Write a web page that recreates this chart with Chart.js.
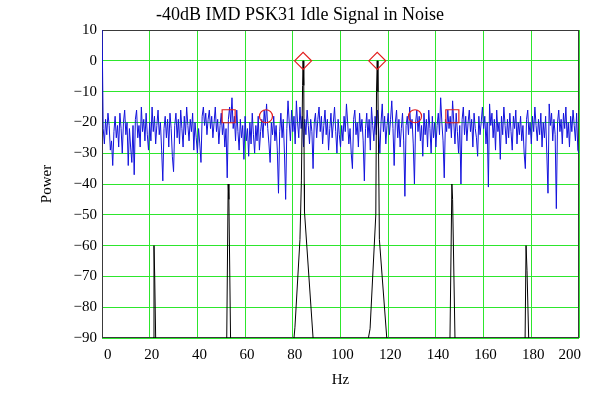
<!DOCTYPE html>
<html>
<head>
<meta charset="utf-8">
<script src="https://cdn.jsdelivr.net/npm/chart.js@4.4.1/dist/chart.umd.min.js"></script>
<style>
  body { margin: 0; background: #fff; }
  canvas { display: block; }
</style>
</head>
<body>
<canvas id="grafico" width="600" height="394"></canvas>
<script>
// noise spectrum, one value every 0.5 Hz from 0 to 200 Hz
var noiseStep = 0.5;
var noisePower = [
  14, -22, -27, -19, -24, -17, -21, -29, -26, -34, -23, -18, -25, -21, -28, -17, -22, -30, -20, -16,
  -24, -20, -34, -22, -28, -33, -21, -37, -19, -16, -25, -21, -28, -15, -23, -19, -26, -17, -24, -29,
  -20, -26, -15, -23, -18, -27, -21, -16, -24, -20, -29, -39, -22, -18, -25, -19, -28, -17, -22, -31,
  -36, -21, -17, -25, -19, -27, -16, -22, -28, -18, -24, -15, -21, -26, -19, -23, -17, -29, -20, -25,
  -30, -22, -27, -33, -18, -15, -21, -17, -24, -19, -16, -22, -18, -25, -20, -15, -23, -19, -27, -21,
  -17, -24, -20, -28, -22, -38, -19, -15, -20, -12, -22, -18, -26, -16, -23, -29, -19, -25, -21, -32,
  -18, -26, -22, -31, -20, -27, -17, -24, -30, -21, -26, -18, -29, -23, -19, -25, -16, -21, -14, -22,
  -27, -33, -20, -24, -18, -26, -21, -29, -43, -23, -17, -25, -19, -30, -45, -22, -13, -20, -26, -16,
  -23, -18, -27, -13, -20, -25, -15, -22, -18, -28, -19, -24, -16, -21, -27, -19, -23, -35, -20, -17,
  -25, -19, -15, -23, -18, -27, -21, -16, -24, -19, -29, -22, -17, -25, -20, -15, -23, -30, -19, -24,
  -28, -21, -26, -18, -23, -14, -20, -27, -22, -30, -35, -19, -16, -24, -20, -28, -17, -23, -19, -26,
  -39, -22, -17, -25, -19, -29, -15, -21, -26, -18, -24, -16, -22, -30, -20, -14, -23, -18, -27, -21,
  -17, -24, -19, -13, -22, -34, -20, -16, -25, -19, -28, -22, -17, -26, -44, -21, -18, -24, -15, -22,
  -19, -27, -40, -20, -16, -23, -18, -26, -21, -31, -17, -24, -19, -28, -16, -22, -30, -18, -25, -20,
  -28, -21, -17, -24, -12, -20, -26, -38, -19, -23, -16, -22, -18, -25, -13, -20, -27, -17, -23, -30,
  -21, -40, -19, -15, -24, -18, -26, -20, -16, -23, -19, -28, -17, -22, -25, -31, -18, -24, -20, -15,
  -22, -18, -27, -20, -41, -14, -21, -17, -25, -19, -29, -16, -23, -20, -32, -18, -24, -15, -21, -27,
  -19, -25, -17, -23, -29, -18, -22, -16, -27, -20, -24, -18, -26, -21, -30, -35, -19, -16, -24, -20,
  -27, -18, -23, -15, -21, -26, -19, -24, -17, -28, -20, -25, -18, -30, -43, -14, -21, -17, -26, -19,
  -24, -48, -20, -16, -23, -19, -27, -17, -22, -15, -25, -20, -28, -18, -23, -16, -21, -26, -17, -29,
  -30
];

// clean two tone signal + IMD products (null = below the plot floor)
var toneHz = [21.5, 21.8, 22.1, 22.5, 37,
  52.3, 52.9, 53.2, 53.9, 67,
  80.5, 80.9, 83.0, 83.6, 84.1, 84.3, 84.6, 84.8, 84.9, 88.5, 100,
  111.7, 112.4, 114.8, 115.1, 115.4, 115.7, 116.1, 116.3, 119.4, 132,
  145.9, 146.7, 147.0, 148.0, 162,
  177.4, 177.8, 178.2, 178.9];
var tonePower = [-90, -60, -70, -90, null,
  -90, -40, -45, -90, null,
  -90, -86.5, -58, -39, -8, 0, -8, -40, -49, -90, null,
  -90, -87, -50, -10, 0, -10, -40, -58, -90, null,
  -90, -40, -45, -90, null,
  -90, -60, -68, -90];

var diamondHz = [84.3, 115.4];
var diamondPower = [0, 0];
var squareHz = [53.1, 146.9];
var squarePower = [-18, -18];
var circleHz = [68.75, 131.25];
var circlePower = [-18, -18];

var xTicks = [0, 200, 20];
var yTicks = [-90, 10, 10];

function pontos(xs, ys) {
  return xs.map(function (x, i) { return { x: x, y: ys[i] }; });
}

var ruido = noisePower.map(function (v, i) { return { x: i * noiseStep, y: v }; });

var caixa = {
  id: 'caixa',
  beforeDatasetsDraw: function (chart) {
    var ctx = chart.ctx, a = chart.chartArea;
    ctx.save();
    ctx.strokeStyle = '#3a3a3a';
    ctx.lineWidth = 1;
    ctx.strokeRect(a.left + 0.5, a.top + 0.5, a.right - a.left - 1, a.bottom - a.top - 1);
    ctx.restore();
  }
};

Chart.defaults.font.family = "'Liberation Serif', 'Times New Roman', serif";
Chart.defaults.color = '#000';

var verde = 'rgb(45,230,45)';
var vermelho = '#e21d1d';

new Chart("grafico", {
  type: "scatter",
  data: {
    datasets: [
      {
        data: pontos(diamondHz, diamondPower),
        pointStyle: 'rectRot', pointRadius: 8.5, pointBorderWidth: 1.2,
        borderColor: vermelho, backgroundColor: 'rgba(0,0,0,0)', order: 0
      },
      {
        data: pontos(squareHz, squarePower),
        pointStyle: 'rect', pointRadius: 9.2, pointBorderWidth: 1.2,
        borderColor: vermelho, backgroundColor: 'rgba(0,0,0,0)', order: 0
      },
      {
        data: pontos(circleHz, circlePower),
        pointStyle: 'circle', pointRadius: 6.5, pointBorderWidth: 1.2,
        borderColor: vermelho, backgroundColor: 'rgba(0,0,0,0)', order: 0
      },
      {
        data: pontos(toneHz, tonePower),
        showLine: true, spanGaps: false, pointRadius: 0,
        borderColor: '#000', borderWidth: 1, order: 1
      },
      {
        data: ruido,
        showLine: true, pointRadius: 0,
        borderColor: '#1212dc', borderWidth: 1, order: 2
      }
    ]
  },
  options: {
    responsive: false,
    animation: false,
    layout: { padding: 0 },
    plugins: {
      legend: { display: false },
      tooltip: { enabled: false },
      title: {
        display: true,
        text: '-40dB IMD PSK31 Idle Signal in Noise',
        font: { size: 18, weight: 'normal' },
        padding: { top: 4, bottom: 4.4 }
      }
    },
    scales: {
      x: {
        type: 'linear',
        min: xTicks[0], max: xTicks[1],
        afterFit: function (s) { s.height = 56; },
        grid: { color: verde, drawTicks: false },
        border: { display: false },
        ticks: { stepSize: xTicks[2], padding: 8, align: 'inner', labelOffset: 2, font: { size: 15 } },
        title: { display: true, text: 'Hz', font: { size: 15 }, padding: { top: 0, bottom: 5 } }
      },
      y: {
        min: yTicks[0], max: yTicks[1],
        afterFit: function (s) { s.width = 102; },
        grid: { color: verde, drawTicks: false },
        border: { display: false },
        ticks: {
          stepSize: yTicks[2], padding: 5, font: { size: 15 },
          callback: function (v) { return v < 0 ? '\u2212' + Math.abs(v) : v; }
        },
        title: { display: true, text: 'Power', font: { size: 15 }, padding: { top: 38, bottom: 0 } }
      },
      // empty strip on the right, keeps the title centred on the page
      margem: {
        position: 'right',
        min: yTicks[0], max: yTicks[1],
        afterFit: function (s) { s.width = 21; },
        grid: { display: false, drawTicks: false },
        border: { display: false },
        ticks: { display: false }
      }
    }
  },
  plugins: [caixa]
});
</script>
</body>
</html>
